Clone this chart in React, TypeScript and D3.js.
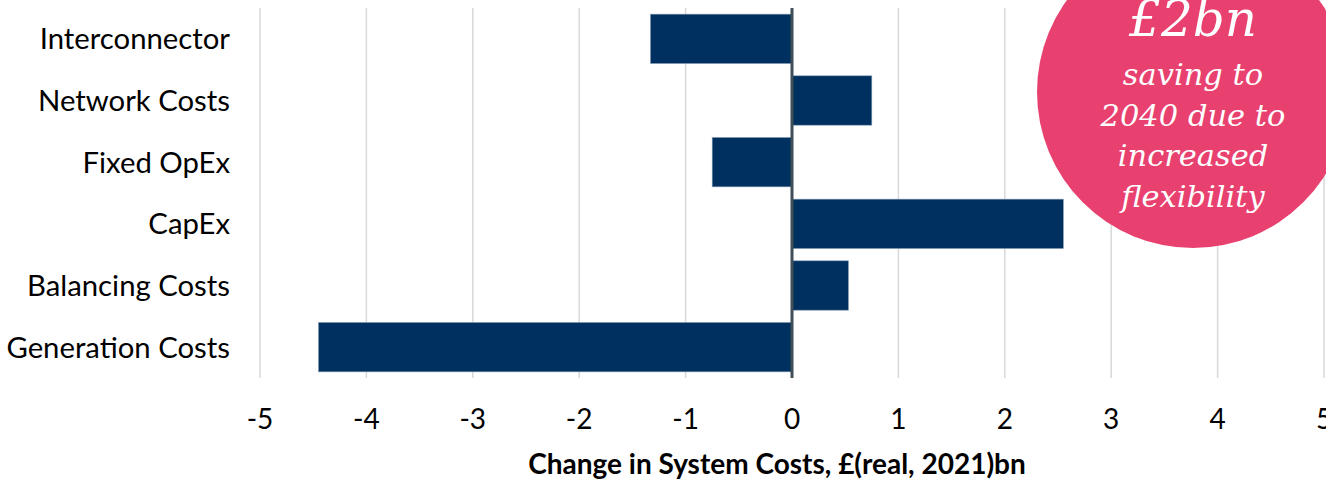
import React from "react";
import * as d3 from "d3";

const WIDTH = 1326;
const HEIGHT = 484;

// Cost components, top to bottom
const categories = [
  "Interconnector",
  "Network Costs",
  "Fixed OpEx",
  "CapEx",
  "Balancing Costs",
  "Generation Costs",
];

// Change in system costs, £bn (real 2021)
const values = [-1.33, 0.75, -0.75, 2.55, 0.53, -4.45];

const xTicks = [-5, -4, -3, -2, -1, 0, 1, 2, 3, 4, 5];

const axisTitle = "Change in System Costs, £(real, 2021)bn";
const calloutHeadline = "£2bn";
const calloutLines = ["saving to", "2040 due to", "increased", "flexibility"];

const BAR = "#00305f";
const GRID = "#d9d9d9";
const ZERO = "#3e4f58";
const PINK = "#e8406f";
const LABEL_FONT = "Lato, 'Open Sans', sans-serif";
const SERIF_FONT = "'DejaVu Serif', 'Liberation Serif', serif";

export default function App() {
  const x = d3.scaleLinear().domain([-5, 5]).range([260, 1324]);
  const y = d3
    .scaleBand<string>()
    .domain(categories)
    .range([8, 378])
    .paddingInner(0.2)
    .paddingOuter(0.1);

  const [top, bottom] = y.range();
  const cx = 1193;
  const cy = 92;
  const r = 156;

  return (
    <svg
      width={WIDTH}
      height={HEIGHT}
      style={{ position: "absolute", left: 0, top: 0, background: "#fff" }}
    >
      {/* vertical gridlines */}
      {xTicks.map((t) => (
        <line
          key={`g${t}`}
          x1={x(t)}
          x2={x(t)}
          y1={top}
          y2={bottom}
          stroke={GRID}
          strokeWidth={1.5}
        />
      ))}

      {/* bars */}
      {categories.map((c, i) => {
        const v = values[i];
        const x0 = x(Math.min(0, v));
        const x1 = x(Math.max(0, v));
        return (
          <rect
            key={c}
            x={x0}
            y={y(c)}
            width={x1 - x0}
            height={y.bandwidth()}
            fill={BAR}
            stroke="#7f97b0"
            strokeWidth={0.6}
          />
        );
      })}

      {/* zero axis */}
      <line
        x1={x(0)}
        x2={x(0)}
        y1={top}
        y2={bottom}
        stroke={ZERO}
        strokeWidth={3}
      />

      {/* category labels */}
      {categories.map((c) => (
        <text
          key={`l${c}`}
          x={230}
          y={(y(c) ?? 0) + y.bandwidth() / 2}
          dy="0.36em"
          textAnchor="end"
          fontFamily={LABEL_FONT}
          fontSize={29.3}
          fill="#000"
        >
          {c}
        </text>
      ))}

      {/* tick labels */}
      {xTicks.map((t) => (
        <text
          key={`t${t}`}
          x={x(t)}
          y={429}
          textAnchor="middle"
          fontFamily={LABEL_FONT}
          fontSize={28}
          fill="#000"
        >
          {t}
        </text>
      ))}

      {/* axis title */}
      <text
        x={777}
        y={474}
        textAnchor="middle"
        fontFamily={LABEL_FONT}
        fontWeight="bold"
        fontSize={28}
        fill="#000"
      >
        {axisTitle}
      </text>

      {/* callout */}
      <circle cx={cx} cy={cy} r={r} fill={PINK} />
      <text
        x={cx}
        y={36}
        textAnchor="middle"
        fontFamily={SERIF_FONT}
        fontStyle="italic"
        fontSize={50}
        fill="#fff"
      >
        {calloutHeadline}
      </text>
      {calloutLines.map((line, i) => (
        <text
          key={line}
          x={cx}
          y={85 + i * 40.7}
          textAnchor="middle"
          fontFamily={SERIF_FONT}
          fontStyle="italic"
          fontSize={30.5}
          fill="#fff"
        >
          {line}
        </text>
      ))}
    </svg>
  );
}
